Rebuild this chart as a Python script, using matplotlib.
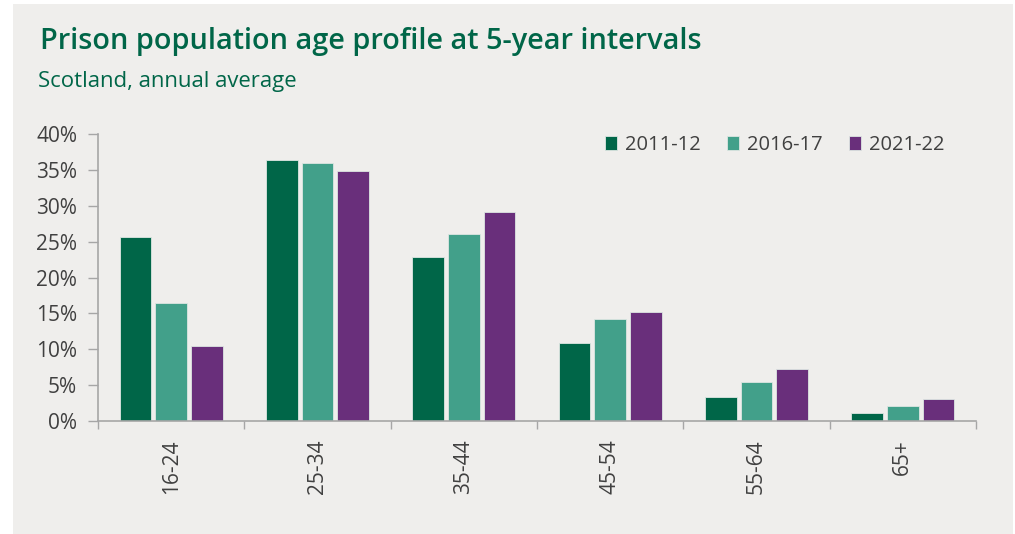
import matplotlib
matplotlib.use("Agg")
import matplotlib.pyplot as plt
from matplotlib.patches import Rectangle
from matplotlib.ticker import FuncFormatter
import numpy as np

categories = ["16-24", "25-34", "35-44", "45-54", "55-64", "65+"]
series_names = ["2011-12", "2016-17", "2021-22"]
v2011 = [25.6, 36.4, 22.9, 10.9, 3.3, 1.1]
v2016 = [16.4, 36.0, 26.0, 14.2, 5.4, 2.1]
v2021 = [10.5, 34.8, 29.1, 15.2, 7.2, 3.1]
colors = ["#006648", "#42A08A", "#692F7B"]

W, H = 1015, 534
fig = plt.figure(figsize=(W / 100, H / 100), dpi=100)
fig.patch.set_facecolor("white")
fig.add_artist(Rectangle((13 / W, 0), (1013 - 13) / W, (H - 4) / H,
                         transform=fig.transFigure, facecolor="#EFEEEC",
                         edgecolor="none", zorder=0))

fig.text(40 / W, 1 - 41 / H, "Prison population age profile at 5-year intervals",
         fontsize=20.8, fontweight="semibold", color="#006648", family="Open Sans",
         va="center", ha="left")
fig.text(38 / W, 1 - 82 / H, "Scotland, annual average", fontsize=15.9,
         color="#006648", family="Open Sans", va="center", ha="left")

ax = fig.add_axes([98 / W, 1 - 421 / H, (976 - 98) / W, (421 - 134) / H])
ax.set_facecolor("none")

x = np.arange(len(categories))
offs = [-0.244, 0.0, 0.244]
for vals, name, col, o in zip([v2011, v2016, v2021], series_names, colors, offs):
    ax.bar(x + o, vals, width=0.215, color=col, label=name,
           edgecolor="#DDE6E2", linewidth=0.6, zorder=2)

ax.set_xlim(-0.5, len(categories) - 0.5)
ax.set_ylim(0, 40)
ax.set_yticks(np.arange(0, 41, 5))
ax.yaxis.set_major_formatter(FuncFormatter(lambda v, p: f"{v:.0f}%"))
ax.set_xticks(x)
ax.set_xticklabels(categories, rotation=90, fontsize=15, color="#404040",
                   family="Open Sans")
ax.set_xticks(np.arange(-0.5, len(categories), 1.0), minor=True)
ax.tick_params(axis="x", which="major", length=0, pad=13)
ax.tick_params(axis="x", which="minor", length=6, color="#A6A6A6", width=1)
ax.tick_params(axis="y", length=7, color="#A6A6A6", width=1, labelsize=15,
               labelcolor="#404040", pad=8)
for lab in ax.get_yticklabels():
    lab.set_family("Open Sans")

for s in ["top", "right"]:
    ax.spines[s].set_visible(False)
for s in ["left", "bottom"]:
    ax.spines[s].set_color("#A6A6A6")
    ax.spines[s].set_linewidth(1.2)

leg = ax.legend(loc="upper right", bbox_to_anchor=(0.985, 1.06), ncol=3,
                frameon=False, handlelength=0.6, handleheight=0.7,
                handletextpad=0.4, columnspacing=1.3,
                prop={"family": "Open Sans", "size": 14.5})
for t in leg.get_texts():
    t.set_color("#404040")

fig.savefig("out.png", dpi=100, facecolor=fig.get_facecolor())
